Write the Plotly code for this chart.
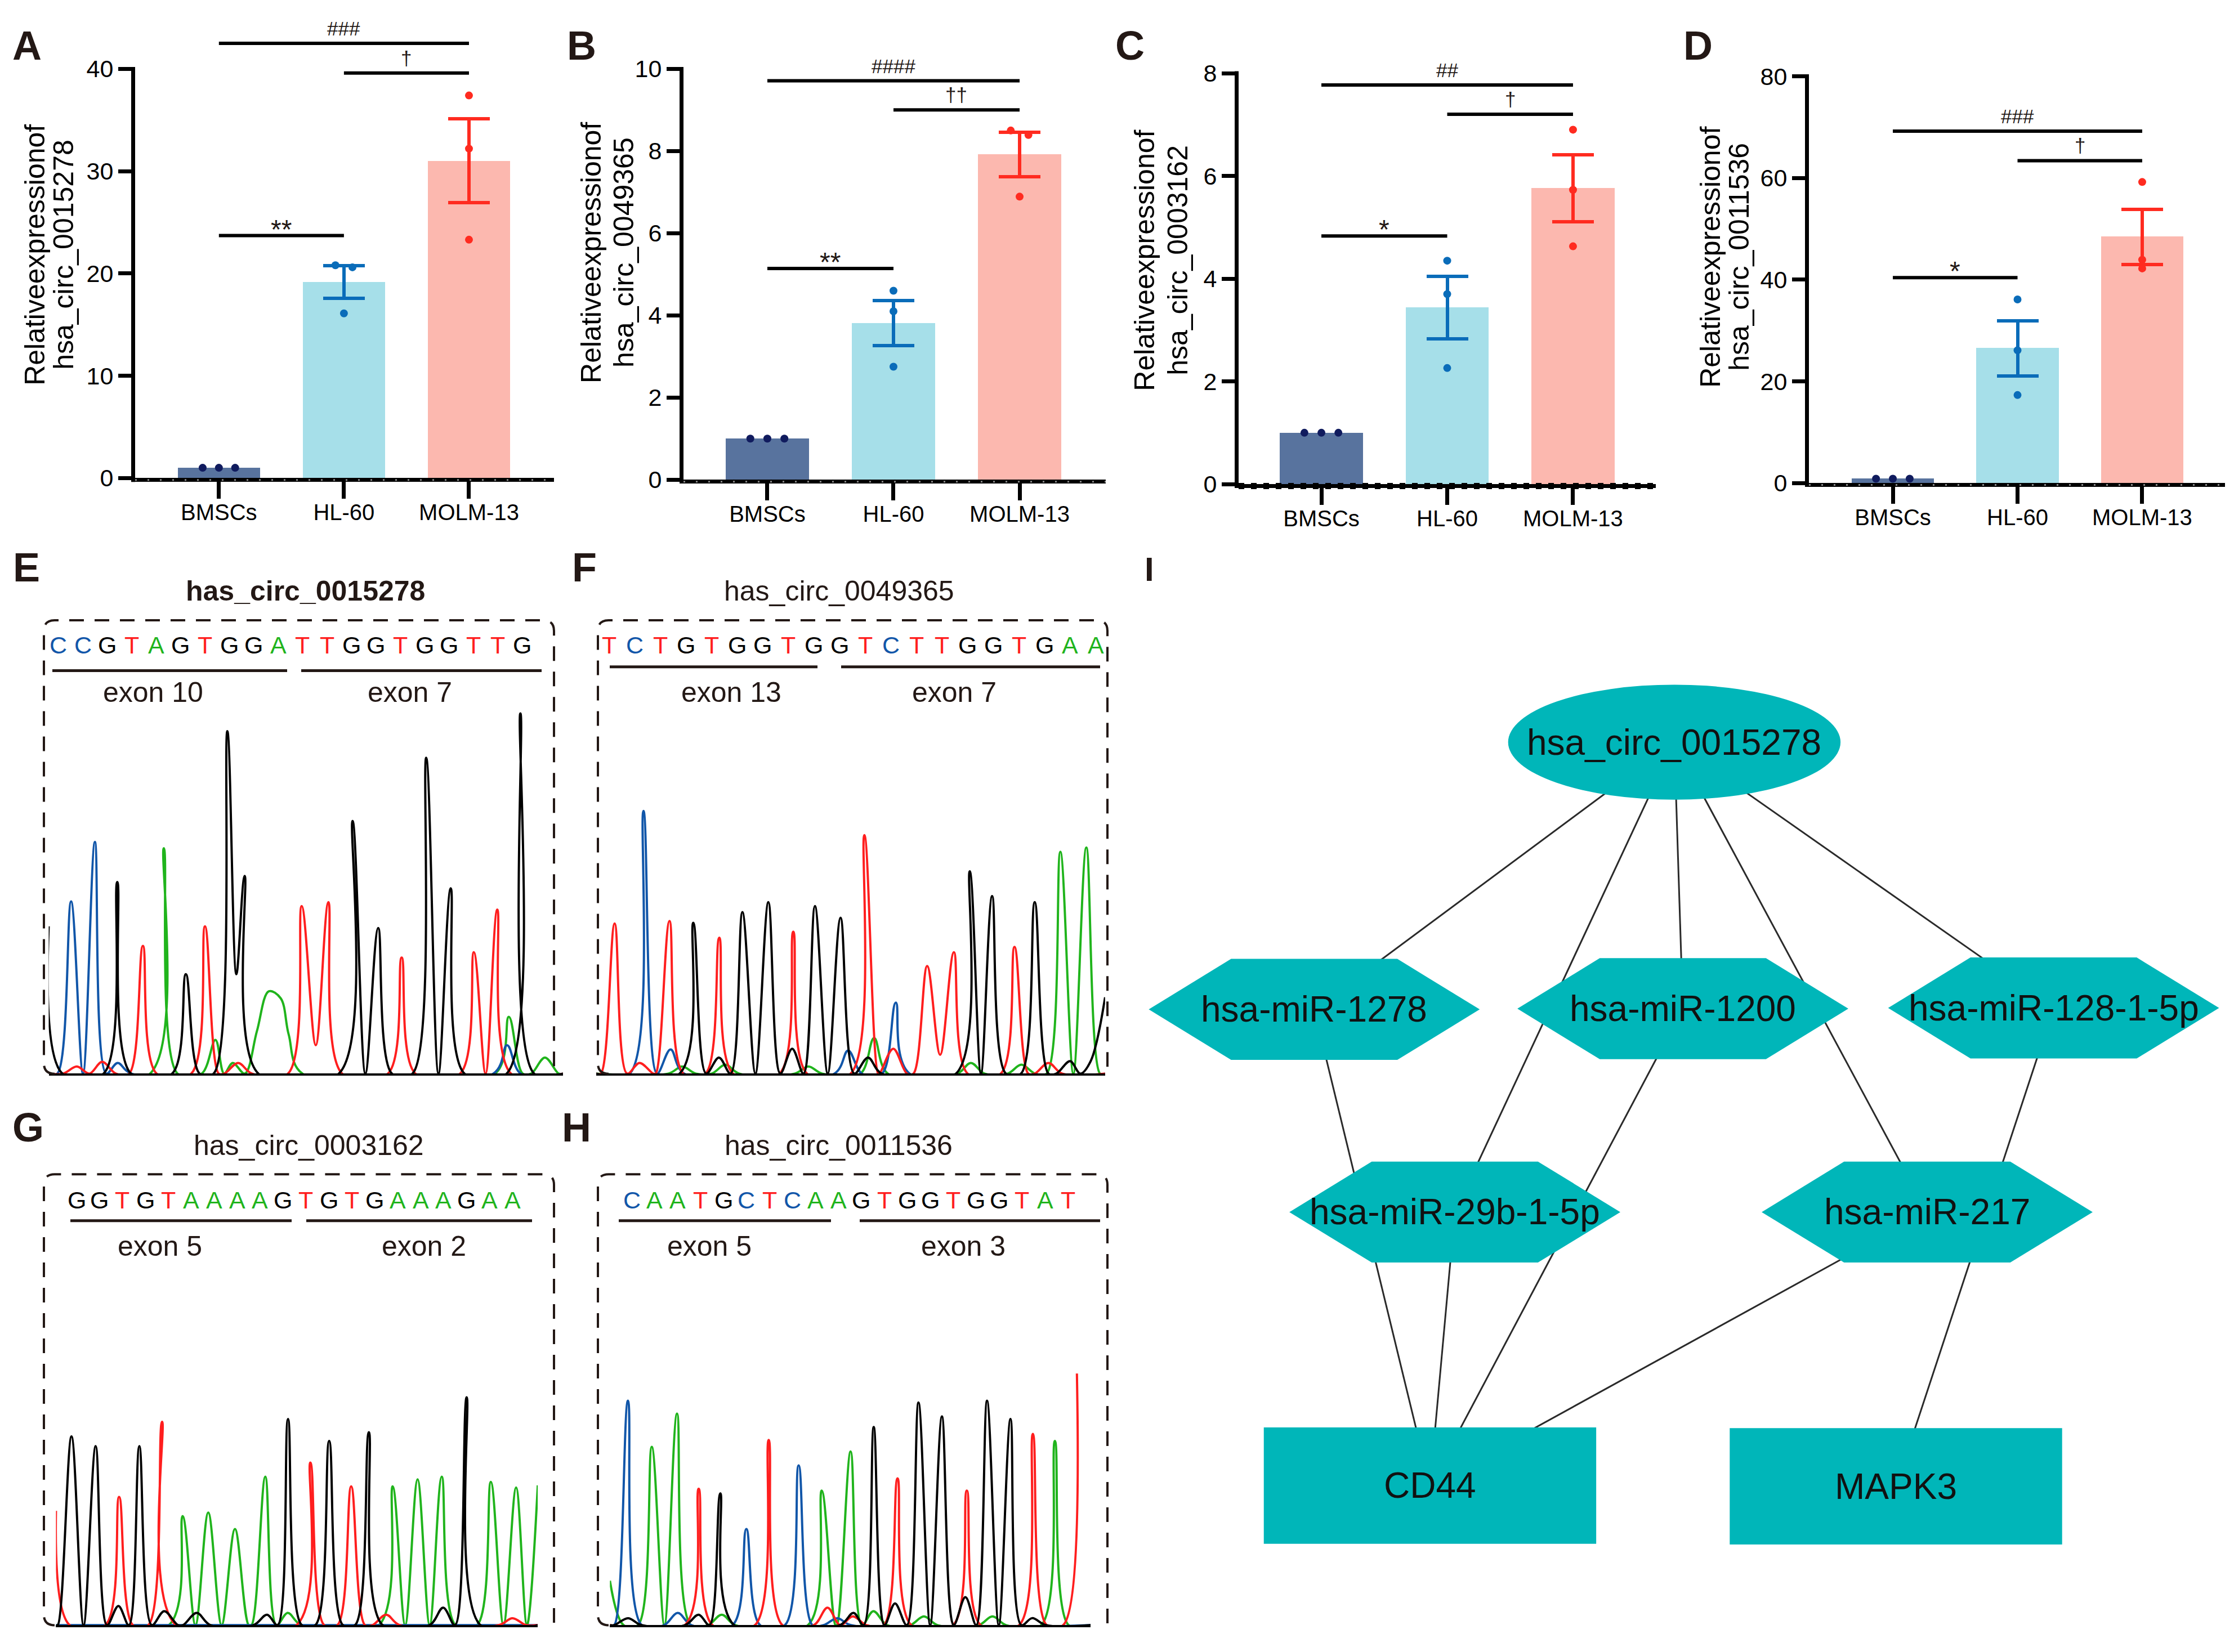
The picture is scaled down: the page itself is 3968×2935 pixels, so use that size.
import plotly.graph_objects as go

W, H = 3968, 2935
FONT = "Arial, Liberation Sans, sans-serif"
INK = "#231815"


def px(x):
    return x / W


def py(y):
    return 1 - y / H


# ======================= DATA =======================
categories = ["BMSCs", "HL-60", "MOLM-13"]
ytitle_line1 = "Relativeexpressionof"

A_gene = "hsa_circ_0015278"
A_mean = [1.0, 19.15, 31.0]
A_sem = [0, 1.6, 4.1]
A_points = [[1.0, 1.0, 1.0], [20.8, 20.6, 16.1], [37.4, 32.2, 23.3]]
A_ticks = [0, 10, 20, 30, 40]
A_sig = [[0, 2, 42.5, "###"], [1, 2, 39.6, "†"], [0, 1, 23.7, "**"]]

B_gene = "hsa_circ_0049365"
B_mean = [1.0, 3.81, 7.92]
B_sem = [0, 0.55, 0.54]
B_points = [[1.0, 1.0, 1.0], [4.6, 4.1, 2.75], [8.5, 8.39, 6.89]]
B_ticks = [0, 2, 4, 6, 8, 10]
B_sig = [[0, 2, 9.71, "####"], [1, 2, 9.0, "††"], [0, 1, 5.14, "**"]]

C_gene = "hsa_circ_0003162"
C_mean = [1.0, 3.44, 5.76]
C_sem = [0, 0.61, 0.65]
C_points = [[1.0, 1.0, 1.0], [4.35, 3.70, 2.26], [6.90, 5.73, 4.63]]
C_ticks = [0, 2, 4, 6, 8]
C_sig = [[0, 2, 7.77, "##"], [1, 2, 7.2, "†"], [0, 1, 4.83, "*"]]

D_gene = "hsa_circ_0011536"
D_mean = [0.85, 26.5, 48.4]
D_sem = [0, 5.45, 5.45]
D_points = [[0.85, 0.85, 0.85], [36.1, 26.1, 17.3], [59.2, 43.9, 42.2]]
D_ticks = [0, 20, 40, 60, 80]
D_sig = [[0, 2, 69.2, "###"], [1, 2, 63.4, "†"], [0, 1, 40.4, "*"]]

# Sanger traces: (scan position, signal height) of peak apexes per channel
E_title = "has_circ_0015278"
E_seq = "CCGTAGTGGATTGGTGGTTG"
E_exons = ["exon 10", "exon 7"]
E_A = [(454, 635), (597, 95), (645, 30), (712, 120), (745, 232), (778, 212), (800, 110), (1410, 160), (1510, 45)]
E_C = [(197, 485), (263, 653), (326, 30), (1405, 80)]
E_G = [(135, 415), (325, 540), (515, 280), (630, 965), (655, 280), (678, 557), (977, 712), (1048, 410),
       (1181, 890), (1249, 522), (1442, 1015)]
E_T = [(213, 20), (283, 33), (396, 360), (568, 415), (660, 30), (836, 472), (875, 80), (910, 483),
       (1113, 327), (1313, 342), (1378, 462)]

F_title = "has_circ_0049365"
F_seq = "TCTGTGGTGGTCTTGGTGAA"
F_exons = ["exon 13", "exon 7"]
F_A = [(330, 20), (450, 25), (680, 20), (862, 100), (1130, 30), (1270, 25), (1378, 625), (1450, 637)]
F_C = [(223, 740), (298, 68), (790, 65), (922, 200)]
F_G = [(361, 425), (432, 45), (497, 455), (569, 483), (635, 70), (698, 472), (769, 439), (845, 45),
       (1127, 570), (1189, 500), (1307, 483), (1405, 35), (1462, 35), (1502, 215)]
F_T = [(143, 423), (212, 30), (295, 430), (433, 383), (638, 400), (835, 672), (915, 70), (1009, 303),
       (1045, 53), (1083, 342), (1251, 357), (1345, 30)]

G_title = "has_circ_0003162"
G_seq = "GGTGTAAAAGTGTGAAAGAA"
G_exons = ["exon 5", "exon 2"]
G_A = [(506, 312), (577, 322), (651, 275), (735, 425), (797, 35), (1088, 397), (1157, 417), (1224, 425),
       (1360, 410), (1430, 394), (1490, 400)]
G_C = []
G_G = [(198, 540), (265, 512), (328, 55), (386, 512), (455, 40), (545, 35), (740, 30), (798, 590),
       (912, 527), (1022, 552), (1228, 50), (1293, 652)]
G_T = [(155, 327), (330, 367), (449, 582), (860, 465), (973, 397), (1070, 30), (1420, 20)]

H_title = "has_circ_0011536"
H_seq = "CAATGCTCAAGTGGTGGTAT"
H_exons = ["exon 5", "exon 3"]
H_A = [(130, 127), (246, 510), (316, 605), (440, 30), (717, 385), (797, 497), (860, 40), (1000, 25),
       (1190, 25), (1363, 527)]
H_C = [(180, 642), (318, 35), (508, 275), (653, 457), (760, 20)]
H_G = [(180, 20), (376, 30), (436, 377), (805, 35), (861, 567), (920, 62), (985, 637), (1050, 597),
       (1115, 80), (1175, 642), (1240, 590), (1300, 20)]
H_T = [(376, 390), (570, 530), (733, 50), (803, 25), (927, 420), (1119, 385), (1302, 547), (1424, 720)]

# Network
net_nodes = ["hsa_circ_0015278", "hsa-miR-1278", "hsa-miR-1200", "hsa-miR-128-1-5p",
             "hsa-miR-29b-1-5p", "hsa-miR-217", "CD44", "MAPK3"]
net_kind = ["circRNA", "miRNA", "miRNA", "miRNA", "miRNA", "miRNA", "mRNA", "mRNA"]
net_edges = [("hsa_circ_0015278", "hsa-miR-1278"), ("hsa_circ_0015278", "hsa-miR-1200"),
             ("hsa_circ_0015278", "hsa-miR-128-1-5p"), ("hsa_circ_0015278", "hsa-miR-29b-1-5p"),
             ("hsa_circ_0015278", "hsa-miR-217"), ("hsa-miR-1278", "CD44"), ("hsa-miR-29b-1-5p", "CD44"),
             ("hsa-miR-1200", "CD44"), ("hsa-miR-217", "CD44"), ("hsa-miR-128-1-5p", "MAPK3")]

# ======================= STYLE / LAYOUT =======================
bar_fill = ["#58739E", "#A6DFE9", "#FCB8AF"]
dot_fill = ["#101B5E", "#0A6CB9", "#FF2B20"]
base_color = {"A": "#20B41C", "C": "#1156A9", "G": "#000000", "T": "#FF1E1E"}

BAR_GEOM = {
    "A": dict(n=1, x0=240, x1=984, zero=839, top=100, xr=[-0.67, 2.68],
              jitter=[[-0.13, 0, 0.13], [-0.068, 0.068, 0], [0, 0, 0]],
              t1=62, t2=113, tc=436, letter=(48, 58), dotted=False),
    "B": dict(n=2, x0=1214, x1=1964, zero=842, top=100, xr=[-0.665, 2.683],
              jitter=[[-0.135, 0, 0.135], [0, 0, 0], [-0.07, 0.07, 0]],
              t1=1050, t2=1108, tc=432, letter=(1033, 58), dotted=False),
    "C": dict(n=3, x0=2200, x1=2941, zero=850, top=107.8, xr=[-0.658, 2.658],
              jitter=[[-0.135, 0, 0.135], [0, 0, 0], [0, 0, 0]],
              t1=2033, t2=2092, tc=446, letter=(2007, 58), dotted=True),
    "D": dict(n=4, x0=3213, x1=3952, zero=848, top=113.3, xr=[-0.673, 2.664],
              jitter=[[-0.135, 0, 0.135], [0, 0, 0], [0, 0, 0]],
              t1=3038, t2=3089, tc=440, letter=(3016, 58), dotted=False),
}

CHROMA = {
    "E": dict(n=5, xr=[135, 1560], x0=86.5, xs=1.56, ys=1.56, base=1914.7, bold=True, title_xy=(542, 1043),
              box=(78, 984, 1096, 1915), seq_y=1141, seq_x=(103.8, 927.6), ex_y=1187,
              ex_lines=[(93, 510), (535, 962)], exlab_y=1226, exlab_x=[272, 728], letter=(47, 1000)),
    "F": dict(n=6, xr=[92, 1502], x0=1059, xs=1.56, ys=1.56, base=1914.7, bold=False, title_xy=(1490, 1043),
              box=(1062, 1967, 1096, 1915), seq_y=1141, seq_x=(1082, 1946), ex_y=1180,
              ex_lines=[(1083, 1452), (1494, 1954)], exlab_y=1226, exlab_x=[1299, 1695], letter=(1038, 1000)),
    "G": dict(n=7, xr=[155, 1490], x0=99.4, xs=1.56, ys=1.584, base=2910.9, bold=False, title_xy=(548, 2044.7),
              box=(78, 984, 2096.5, 2911), seq_y=2142.6, seq_x=(136, 910), ex_y=2180.4,
              ex_lines=[(125, 518), (544, 945)], exlab_y=2226, exlab_x=[284, 753], letter=(50, 2011.5)),
    "H": dict(n=8, xr=[130, 1462], x0=1083.3, xs=1.56, ys=1.584, base=2910.9, bold=False,
              title_xy=(1489, 2044.7), box=(1062, 1967, 2096.5, 2911), seq_y=2142.6, seq_x=(1122, 1897),
              ex_y=2180.4, ex_lines=[(1099, 1476), (1527, 1954)], exlab_y=2226, exlab_x=[1260, 1711],
              letter=(1024, 2011.5)),
}

NET_POS = {"hsa_circ_0015278": (772, 289), "hsa-miR-1278": (265, 670), "hsa-miR-1200": (784, 669),
           "hsa-miR-128-1-5p": (1306, 668), "hsa-miR-29b-1-5p": (463, 959), "hsa-miR-217": (1128, 959),
           "CD44": (428, 1349), "MAPK3": (1084, 1350)}
TEAL = "#00B6B9"

traces, shapes, annots = [], [], []
axes = {}


def axname(n, a):
    return f"{a}axis" if n == 1 else f"{a}axis{n}"


def axref(n, a):
    return a if n == 1 else f"{a}{n}"


def text(x, y, s, size, color=INK, bold=False, angle=0, **kw):
    annots.append(dict(x=px(x), y=py(y), xref="paper", yref="paper", text=f"<b>{s}</b>" if bold else s,
                       showarrow=False, textangle=angle, xanchor="center", yanchor="middle",
                       font=dict(size=size, color=color, family=FONT), **kw))


def bar_panel(letter, gene, mean, sem, pts, ticks, sig):
    g = BAR_GEOM[letter]
    n = g["n"]
    xr, yr = axref(n, "x"), axref(n, "y")
    amax = ticks[-1]
    ppu = (g["zero"] - g["top"]) / amax
    rtop = max(amax, max(s[2] for s in sig) + 0.015 * amax)
    dom_top = g["zero"] - rtop * ppu
    axes[axname(n, "x")] = dict(domain=[px(g["x0"]), px(g["x1"])], range=g["xr"], anchor=yr, showline=True,
                                linewidth=7, linecolor="black", ticks="outside", ticklen=30, tickwidth=7,
                                tickcolor="black", tickvals=[0, 1, 2], ticktext=categories,
                                ticklabelstandoff=-10,
                                tickfont=dict(size=40, color="black", family=FONT), showgrid=False,
                                zeroline=False)
    axes[axname(n, "y")] = dict(domain=[py(g["zero"]), py(dom_top)], range=[0, rtop], anchor=xr,
                                showline=False, ticks="outside", ticklen=29, tickwidth=7, tickcolor="black",
                                tickvals=ticks, tickfont=dict(size=43, color="black", family=FONT),
                                showgrid=False, zeroline=False)
    for i in range(3):
        err = dict(type="data", array=[sem[i]], color=dot_fill[i], thickness=6, width=37,
                   visible=sem[i] > 0)
        traces.append(go.Bar(x=[i], y=[mean[i]], width=0.66, marker=dict(color=bar_fill[i], line_width=0),
                             error_y=err, xaxis=xr, yaxis=yr, showlegend=False))
    for i in range(3):
        traces.append(go.Scatter(x=[i + j for j in g["jitter"][i]], y=pts[i], mode="markers",
                                 marker=dict(size=14, color=dot_fill[i]), xaxis=xr, yaxis=yr,
                                 showlegend=False, cliponaxis=False))
    # y axis line (from 0 to top tick)
    shapes.append(dict(type="line", xref="paper", yref="paper", x0=px(g["x0"] - 3.5), x1=px(g["x0"] - 3.5),
                       y0=py(g["zero"] + 7), y1=py(g["top"] - 3.5), line=dict(color="black", width=7)))
    # dotted texture along the x axis line
    if g["dotted"]:
        shapes.append(dict(type="line", xref="paper", yref="paper", x0=px(g["x0"]), x1=px(g["x1"]),
                           y0=py(g["zero"] + 3.5), y1=py(g["zero"] + 3.5),
                           line=dict(color="black", width=11, dash="10px,12px")))
    else:
        shapes.append(dict(type="line", xref="paper", yref="paper", x0=px(g["x0"]), x1=px(g["x1"]),
                           y0=py(g["zero"] + 3.5), y1=py(g["zero"] + 3.5),
                           line=dict(color="#8a8a8a", width=3, dash="3px,19px")))
    for a, b, y, lab in sig:
        shapes.append(dict(type="line", xref=xr, yref=yr, x0=a, x1=b, y0=y, y1=y,
                           line=dict(color="black", width=6)))
        star = lab.startswith("*")
        annots.append(dict(x=(a + b) / 2, y=y, xref=xr, yref=yr, text=lab, showarrow=False,
                           xanchor="center", yanchor="bottom", yshift=-17 if star else 5,
                           font=dict(size=48 if star else 35, color=INK, family=FONT)))
    text(g["t1"], g["tc"], ytitle_line1, 50, color="black", angle=-90)
    text(g["t2"], g["tc"], gene, 50, color="black", angle=-90)
    text(g["letter"][0], g["letter"][1], letter, 72, bold=True)


bar_panel("A", A_gene, A_mean, A_sem, A_points, A_ticks, A_sig)
bar_panel("B", B_gene, B_mean, B_sem, B_points, B_ticks, B_sig)
bar_panel("C", C_gene, C_mean, C_sem, C_points, C_ticks, C_sig)
bar_panel("D", D_gene, D_mean, D_sem, D_points, D_ticks, D_sig)


def peak_xy(points, xmin, xmax, w=38):
    pts = sorted(points)
    if not pts:
        return [xmin, xmax], [0, 0]
    xs, ys = [], []
    if pts[0][0] - w > xmin:
        xs += [xmin, pts[0][0] - w]
        ys += [0, 0]
    prev = None
    for x, h in pts:
        if prev is not None:
            gap = x - prev
            if gap >= 45:
                half = min(w, gap / 2)
                a, b = prev + half, x - half
                xs.append(a); ys.append(0)
                if b > a:
                    xs.append(b); ys.append(0)
        xs.append(x); ys.append(h)
        prev = x
    if prev + w < xmax:
        xs += [prev + w, xmax]
        ys += [0, 0]
    return xs, ys


def box_path(l, r, t, b, rad=19):
    return (f"M {px(l + rad)},{py(b)} Q {px(l)},{py(b)} {px(l)},{py(b - rad)} "
            f"L {px(l)},{py(t + rad)} Q {px(l)},{py(t)} {px(l + rad)},{py(t)} "
            f"L {px(r - rad)},{py(t)} Q {px(r)},{py(t)} {px(r)},{py(t + rad)} L {px(r)},{py(b)}")


def chroma_panel(letter, title, seq, exons, chans):
    c = CHROMA[letter]
    n = c["n"]
    xr, yr = axref(n, "x"), axref(n, "y")
    x1 = c["x0"] + (c["xr"][1] - c["xr"][0]) / c["xs"]
    axes[axname(n, "x")] = dict(domain=[px(c["x0"]), px(x1)], range=c["xr"], anchor=yr, showline=True,
                                linewidth=4, linecolor="black", showticklabels=False, ticks="",
                                showgrid=False, zeroline=False)
    axes[axname(n, "y")] = dict(domain=[py(c["base"]), py(c["base"] - 1100 / c["ys"])], range=[0, 1100],
                                anchor=xr, visible=False, showgrid=False, zeroline=False)
    for base in ["A", "C", "T", "G"]:
        xs, ys = peak_xy(chans[base], c["xr"][0], c["xr"][1])
        traces.append(go.Scatter(x=xs, y=ys, mode="lines", line=dict(color=base_color[base], width=4,
                                                                        shape="spline", smoothing=1.0),
                                 xaxis=xr, yaxis=yr, showlegend=False, hoverinfo="skip"))
    l, r, t, b = c["box"]
    shapes.append(dict(type="path", xref="paper", yref="paper", path=box_path(l, r, t, b),
                       line=dict(color=INK, width=4, dash="26px,19px")))
    text(c["title_xy"][0], c["title_xy"][1], title, 50, bold=c["bold"])
    s0, s1 = c["seq_x"]
    step = (s1 - s0) / (len(seq) - 1)
    for i, ch in enumerate(seq):
        text(s0 + i * step, c["seq_y"], ch, 43, color=base_color[ch])
    for (a, bb), lab, lx in zip(c["ex_lines"], exons, c["exlab_x"]):
        shapes.append(dict(type="line", xref="paper", yref="paper", x0=px(a), x1=px(bb),
                           y0=py(c["ex_y"]), y1=py(c["ex_y"]), line=dict(color=INK, width=5)))
        text(lx, c["exlab_y"], lab, 50)
    text(c["letter"][0], c["letter"][1], letter, 72, bold=True)


chroma_panel("E", E_title, E_seq, E_exons, {"A": E_A, "C": E_C, "G": E_G, "T": E_T})
chroma_panel("F", F_title, F_seq, F_exons, {"A": F_A, "C": F_C, "G": F_G, "T": F_T})
chroma_panel("G", G_title, G_seq, G_exons, {"A": G_A, "C": G_C, "G": G_G, "T": G_T})
chroma_panel("H", H_title, H_seq, H_exons, {"A": H_A, "C": H_C, "G": H_G, "T": H_T})

# ---------------- Network (panel I) ----------------
axes["xaxis9"] = dict(domain=[px(2000), 1], range=[0, 1560], anchor="y9", visible=False)
axes["yaxis9"] = dict(domain=[0, py(950)], range=[1567, 0], anchor="x9", visible=False)
ex, ey = [], []
for a, b in net_edges:
    ex += [NET_POS[a][0], NET_POS[b][0], None]
    ey += [NET_POS[a][1], NET_POS[b][1], None]
traces.append(go.Scatter(x=ex, y=ey, mode="lines", line=dict(color="#2a2a2a", width=3), xaxis="x9",
                         yaxis="y9", showlegend=False, hoverinfo="skip"))
for name, kind in zip(net_nodes, net_kind):
    cx, cy = NET_POS[name]
    if kind == "circRNA":
        shapes.append(dict(type="circle", xref="x9", yref="y9", x0=cx - 234, x1=cx + 234, y0=cy - 82,
                           y1=cy + 82, fillcolor=TEAL, line=dict(width=0), layer="above"))
    elif kind == "miRNA":
        hw, hh, ins = 233, 72, 116
        p = (f"M {cx - hw},{cy} L {cx - hw + ins},{cy - hh} L {cx + hw - ins},{cy - hh} L {cx + hw},{cy} "
             f"L {cx + hw - ins},{cy + hh} L {cx - hw + ins},{cy + hh} Z")
        shapes.append(dict(type="path", xref="x9", yref="y9", path=p, fillcolor=TEAL, line=dict(width=0),
                           layer="above"))
    else:
        shapes.append(dict(type="rect", xref="x9", yref="y9", x0=cx - 234, x1=cx + 234, y0=cy - 83,
                           y1=cy + 83, fillcolor=TEAL, line=dict(width=0), layer="above"))
    annots.append(dict(x=cx, y=cy, xref="x9", yref="y9", text=name, showarrow=False, xanchor="center",
                       yanchor="middle", font=dict(size=64, color="#111111", family=FONT)))
text(2041, 1004, "I", 60, bold=True)

fig = go.Figure(data=traces)
fig.update_layout(width=W, height=H, margin=dict(l=0, r=0, t=0, b=0), paper_bgcolor="white",
                  plot_bgcolor="rgba(0,0,0,0)", font=dict(family=FONT, color="black"),
                  shapes=shapes, annotations=annots, showlegend=False, bargap=0, **axes)
fig.write_html("out.html", config={"displayModeBar": False},
               post_script="document.body.style.margin='0';document.body.style.overflow='hidden';")
